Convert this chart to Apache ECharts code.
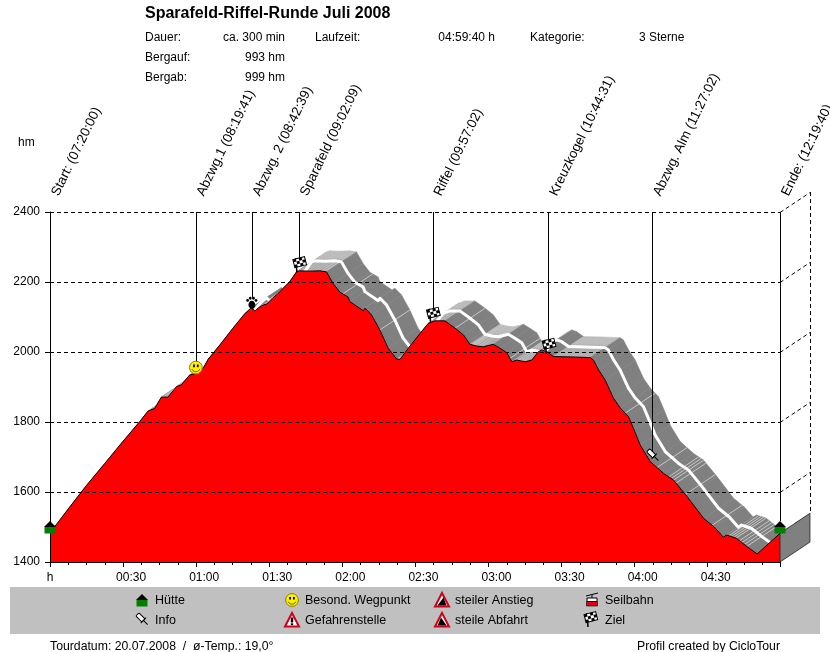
<!DOCTYPE html>
<html><head><meta charset="utf-8">
<style>html,body{margin:0;padding:0;background:#fff}#c{width:830px;height:652px}</style>
<script src="https://cdn.jsdelivr.net/npm/echarts@6/dist/echarts.min.js"></script>
</head><body><div id="c"></div>
<script>
const profileMinutes=[0,2.5,7.2,14.9,22.4,29.4,36.8,40.2,43,45.7,48.4,51.9,53.9,57.3,60,62.8,64.9,69.7,75.1,79.9,82.7,84.1,85.7,87.5,89,91.6,93.5,95.7,98.4,101.2,102.5,106.7,110.8,113.5,116.2,119,122.4,123.1,128.6,129.3,132,135.4,138.8,142.3,143.7,147.1,151.9,155.3,158,162.1,166.3,169.7,171.7,172.4,175.2,177.9,182,184.7,187.5,189.6,191.6,195,197.8,200.5,201.9,203.9,206.7,213.5,221.7,223.1,225.2,227.9,231.3,234.1,237.5,239.8,242.3,246.4,251.9,256,261.5,268.3,272.7,276.4,277.7,281.7,286.1,290.3,299.67];
const profileElevation=[1490,1506,1549,1618,1681,1740,1801,1831,1839,1871,1871,1901,1906,1934,1939,1953,1979,2020,2068,2109,2127,2117,2127,2134,2137,2156,2166,2182,2201,2229,2232,2231,2232,2229,2196,2171,2157,2144,2118,2125,2106,2063,2011,1980,1979,2011,2053,2082,2089,2089,2068,2049,2029,2022,2017,2015,2022,2011,1998,1972,1977,1972,1977,2001,2006,2001,1987,1986,1984,1977,1949,1920,1868,1840,1815,1777,1734,1687,1653,1634,1587,1525,1500,1471,1477,1468,1444,1423,1482];
const yTicks=[1600,1800,2000,2200,2400];
const waypointLabels=["Start: (07:20:00)","Abzwg.1 (08:19:41)","Abzwg. 2 (08:42:39)","Sparafeld (09:02:09)","Riffel (09:57:02)","Kreuzkogel (10:44:31)","Abzwg. Alm (11:27:02)","Ende: (12:19:40)"];
const waypointMinutes=[0,59.68,82.65,102.15,157.03,204.52,247.03,299.67];
const waypointIcons=["hut","smile","paw","flag","flag","flag","pin","hut"];
const stripeMinutes=[120.2,135.4,166.3,173.6,188.8,236.1,249.2,254,255,256,257,260.8,271.8,278.6,279.6,280.6,281.6,283,284,285,286];
const titleText="Sparafeld-Riffel-Runde Juli 2008";
const headerLeft=[["Dauer:","ca. 300 min"],["Bergauf:","993 hm"],["Bergab:","999 hm"]];
const legendItems=[["hut","Hütte"],["pin","Info"],["smile","Besond. Wegpunkt"],["warn","Gefahrenstelle"],["up","steiler Anstieg"],["down","steile Abfahrt"],["gondola","Seilbahn"],["flag","Ziel"]];
const FONT='"Liberation Sans",Arial,sans-serif';
const maxT=299.67, depthMin=12.3, depthHm=57, hutElevation=1500;

function fmt(v){if(v===0)return '{h|h}';if(v>299)return '';const h=Math.floor(v/60),m=v%60;return '{t|'+String(h).padStart(2,'0')+':'+String(m).padStart(2,'0')+'}';}
function elevAt(t){for(let i=0;i<profileMinutes.length-1;i++){if(t<=profileMinutes[i+1]){const f=(t-profileMinutes[i])/(profileMinutes[i+1]-profileMinutes[i]);return profileElevation[i]+f*(profileElevation[i+1]-profileElevation[i]);}}return profileElevation[profileElevation.length-1];}
const txt=(s,x,y,o={})=>({type:'text',style:Object.assign({text:s,x,y,font:'12px '+FONT,fill:'#000',align:'left',verticalAlign:'middle'},o)});
const ln=(x1,y1,x2,y2,c='#000',w=1,extra={})=>({type:'line',shape:{x1,y1,x2,y2},style:Object.assign({stroke:c,lineWidth:w},extra)});
const snap=v=>Math.round(v)+0.5;

function flagCells(){
  const out=[{type:'rect',shape:{x:0,y:0,width:12,height:8.4},style:{fill:'#fff',stroke:'#000',lineWidth:1}}];
  for(let r=0;r<3;r++)for(let c=0;c<4;c++)if((r+c)%2===0)out.push({type:'rect',shape:{x:c*3,y:r*2.8,width:3,height:2.8},style:{fill:'#000'}});
  return out;
}
function icon(kind,cx,cy){
  let ch=[];
  if(kind==='hut'){ch=[{type:'polygon',shape:{points:[[-6,0],[0,-6],[6,0]]},style:{fill:'#000'}},{type:'rect',shape:{x:-5.5,y:0,width:11,height:6.5},style:{fill:'#008000'}}];}
  if(kind==='smile'){ch=[{type:'circle',shape:{cx:0,cy:0,r:6.4},style:{fill:'#fff000',stroke:'#8a8000',lineWidth:1}},
    {type:'rect',shape:{x:-2.8,y:-3,width:1.8,height:2.6},style:{fill:'#000'}},{type:'rect',shape:{x:1,y:-3,width:1.8,height:2.6},style:{fill:'#000'}},
    {type:'arc',shape:{cx:0,cy:0,r:4.2,startAngle:0.4,endAngle:2.74},style:{stroke:'#6b6000',fill:'none',lineWidth:1}}];}
  if(kind==='paw'){ch=[{type:'ellipse',shape:{cx:0,cy:2,rx:3.4,ry:4},style:{fill:'#000'}},{type:'circle',shape:{cx:-4.2,cy:-2.2,r:1.4},style:{fill:'#000'}},{type:'circle',shape:{cx:-1.6,cy:-4.4,r:1.4},style:{fill:'#000'}},{type:'circle',shape:{cx:1.6,cy:-4.4,r:1.4},style:{fill:'#000'}},{type:'circle',shape:{cx:4.2,cy:-2.2,r:1.4},style:{fill:'#000'}}];}
  if(kind==='flag'){ch=[ln(0,0,-1,-14,'#000',1.5),{type:'group',x:-4,y:-12.5,rotation:0.25,children:flagCells()}];}
  if(kind==='pin'){ch=[{type:'group',rotation:Math.PI/4,children:[{type:'rect',shape:{x:-2.2,y:-6.5,width:4.4,height:8.5,r:1},style:{fill:'#fff',stroke:'#000',lineWidth:1}},ln(-3.8,2,3.8,2,'#000',1),ln(0,2,0,8,'#000',1)]}];}
  const tri=[[0,-7],[7,6.5],[-7,6.5]];
  if(kind==='warn'){ch=[{type:'polygon',shape:{points:tri},style:{fill:'#fff',stroke:'#d00018',lineWidth:2}},{type:'rect',shape:{x:-1.2,y:-2.5,width:2.4,height:5},style:{fill:'#000'}},{type:'rect',shape:{x:-1.2,y:3.3,width:2.4,height:1.8},style:{fill:'#000'}}];}
  if(kind==='up'){ch=[{type:'polygon',shape:{points:tri},style:{fill:'#fff',stroke:'#d00018',lineWidth:2}},{type:'polygon',shape:{points:[[-4.5,5.5],[4.5,5.5],[1.5,-2.5]]},style:{fill:'#000'}}];}
  if(kind==='down'){ch=[{type:'polygon',shape:{points:tri},style:{fill:'#fff',stroke:'#d00018',lineWidth:2}},{type:'polygon',shape:{points:[[-4.5,5.5],[4.5,5.5],[-1,-2.5]]},style:{fill:'#000'}}];}
  if(kind==='gondola'){ch=[ln(-6,-4,6,-7,'#000',1),ln(0,-5.5,0,-2,'#000',1),{type:'rect',shape:{x:-5,y:-2,width:10,height:3.5},style:{fill:'#fff',stroke:'#000',lineWidth:1}},{type:'rect',shape:{x:-5.5,y:1.5,width:11,height:4.5},style:{fill:'#e00010',stroke:'#000',lineWidth:.6}}];}
  return {type:'group',x:cx,y:cy,children:ch};
}

function renderBand(params,api){
  const P=(t,e)=>api.coord([t,e]),Q=(t,e)=>api.coord([t+depthMin,e+depthHm]);
  const ch=[];
  for(let i=0;i<profileMinutes.length-1;i++){
    const t0=profileMinutes[i],t1=profileMinutes[i+1],e0=profileElevation[i],e1=profileElevation[i+1];
    const a=P(t0,e0),b=P(t1,e1),c=Q(t1,e1),d=Q(t0,e0);
    const slope=(b[1]-a[1])/(b[0]-a[0]);
    const dark=slope>0.3;
    const col=dark?'#808080':'#bcbcbc';
    ch.push({type:'polygon',shape:{points:[a,b,c,d]},style:{fill:col,stroke:col,lineWidth:.6}});
    if(!dark){
      const n=Math.floor((b[0]-a[0])/2.6);
      for(let k=0;k<=n;k++){const f=n?k/n:0;
        const x=a[0]+f*(b[0]-a[0]),y=a[1]+f*(b[1]-a[1]);
        ch.push(ln(x,y,x+(d[0]-a[0])*0.62,y+(d[1]-a[1])*0.62,'#a0a0a0',.8));
      }
    }
  }
  stripeMinutes.forEach(t=>{const e=elevAt(t),a=P(t,e),b=Q(t,e);ch.push(ln(a[0],a[1],b[0],b[1],'#c8c8c8',1));});
  const mid=profileMinutes.map((t,i)=>api.coord([t+depthMin/2,profileElevation[i]+depthHm/2]));
  ch.push({type:'polyline',shape:{points:mid},style:{stroke:'#fff',lineWidth:3,fill:'none',lineJoin:'round'}});
  return {type:'group',children:ch};
}

function renderOverlay(params,api){
  const ch=[];
  const dash={lineDash:[4,3]};
  const endE=profileElevation[profileElevation.length-1];
  const a=api.coord([maxT,endE]),b=api.coord([maxT,1400]),c=api.coord([maxT+depthMin,1400+depthHm]),d=api.coord([maxT+depthMin,endE+depthHm]);
  ch.push({type:'polygon',shape:{points:[a,b,c,d]},style:{fill:'#808080',stroke:'#222',lineWidth:.8}});
  yTicks.forEach(v=>{
    const l=api.coord([0,v]),r=api.coord([maxT,v]),s=api.coord([maxT+depthMin,v+depthHm]);
    const y=snap(l[1]);
    ch.push(ln(l[0],y,r[0],y,'#000',1,dash));
    ch.push(ln(r[0],y,s[0],y+(s[1]-r[1]),'#000',1,dash));
  });
  const topBack=api.coord([maxT+depthMin,2400+depthHm]);
  const bx=snap(topBack[0]);
  ch.push(ln(bx,topBack[1],bx,d[1],'#000',1,dash));
  const yTop=api.coord([0,2400])[1];
  const gap={hut:6,smile:12,paw:10,flag:13,pin:10};
  const off={hut:[0,0],smile:[0.5,-6],paw:[0.5,-5],flag:[-2,1],pin:[1,-8]};
  waypointMinutes.forEach((t,i)=>{
    const kind=waypointIcons[i];
    const p=api.coord([t,kind==='hut'?hutElevation:elevAt(t)]);
    const yEnd=i===0?api.coord([0,1400])[1]:p[1]-gap[kind];
    const lx=Math.round(p[0]+0.2)+0.5;
    ch.push(ln(lx,yTop,lx,yEnd,'#000',1));
    ch.push({type:'text',x:p[0]+11,y:yTop-14,rotation:64*Math.PI/180,style:{text:waypointLabels[i],x:0,y:0,font:'13.4px '+FONT,fill:'#000',align:'left',verticalAlign:'bottom'}});
    ch.push(icon(kind,p[0]+off[kind][0],p[1]+off[kind][1]));
  });
  return {type:'group',children:ch};
}

const legendPos=[[142,600],[142,620],[292,600],[292,620],[442,600],[442,620],[592,600],[592,620]];
const headerEls=[
  txt(titleText,145,14,{font:'bold 16px '+FONT}),
  txt('hm',18,143),
  txt(headerLeft[0][0],145,38),txt(headerLeft[1][0],145,58),txt(headerLeft[2][0],145,78),
  txt(headerLeft[0][1],285,38,{align:'right'}),txt(headerLeft[1][1],285,58,{align:'right'}),txt(headerLeft[2][1],285,78,{align:'right'}),
  txt('Laufzeit:',315,38),txt('04:59:40 h',495,38,{align:'right'}),
  txt('Kategorie:',530,38),txt('3 Sterne',639,38),
  {type:'rect',shape:{x:10,y:587,width:810,height:47},style:{fill:'#c0c0c0'}},
  txt('Tourdatum: 20.07.2008  /  ø-Temp.: 19,0°',50,647,{font:'12.25px '+FONT}),
  txt('Profil created by CicloTour',780,647,{align:'right',font:'12.25px '+FONT})
];
legendItems.forEach((it,i)=>{
  const [x,y]=legendPos[i];
  const iy=it[0]==='flag'?y+7:it[0]==='pin'?y-1:y;
  headerEls.push(icon(it[0],it[0]==='flag'?x-4:x,iy));
  headerEls.push(txt(it[1],x+13,y+1,{font:'12.5px '+FONT}));
});

const chart=echarts.init(document.getElementById('c'),null,{renderer:'canvas'});
chart.setOption({
  animation:false,backgroundColor:'#fff',
  textStyle:{fontFamily:FONT},
  grid:{left:50,top:212,width:730,height:350,containLabel:false},
  xAxis:{type:'value',min:0,max:maxT,interval:30,
    axisLine:{show:true,onZero:false,lineStyle:{color:'#000',width:1}},
    axisTick:{show:true,length:5,lineStyle:{color:'#000'}},
    minorTick:{show:true,splitNumber:4,length:3,lineStyle:{color:'#000'}},
    splitLine:{show:false},
    axisLabel:{color:'#000',fontSize:12,fontFamily:FONT,margin:10,formatter:fmt,hideOverlap:false,showMaxLabel:false,
      rich:{h:{fontSize:12,fontFamily:FONT,color:'#000'},t:{fontSize:12,fontFamily:FONT,color:'#000',padding:[0,0,0,16]}}}},
  yAxis:{type:'value',min:1400,max:2400,interval:200,
    axisLine:{show:true,lineStyle:{color:'#000',width:1}},
    axisTick:{show:true,length:5,lineStyle:{color:'#000'}},
    splitLine:{show:false},
    axisLabel:{color:'#000',fontSize:12,fontFamily:FONT,margin:10,formatter:v=>String(v),padding:[4,0,0,0]}},
  graphic:{elements:headerEls},
  series:[
    {type:'custom',coordinateSystem:'cartesian2d',z:1,clip:false,silent:true,data:[[0,1400]],renderItem:renderBand},
    {type:'line',z:2,symbol:'none',silent:true,data:profileMinutes.map((t,i)=>[t,profileElevation[i]]),
      lineStyle:{color:'#000',width:1},areaStyle:{color:'#ff0000',opacity:1}},
    {type:'custom',coordinateSystem:'cartesian2d',z:3,clip:false,silent:true,data:[[0,1400]],renderItem:renderOverlay}
  ]
});
</script></body></html>
